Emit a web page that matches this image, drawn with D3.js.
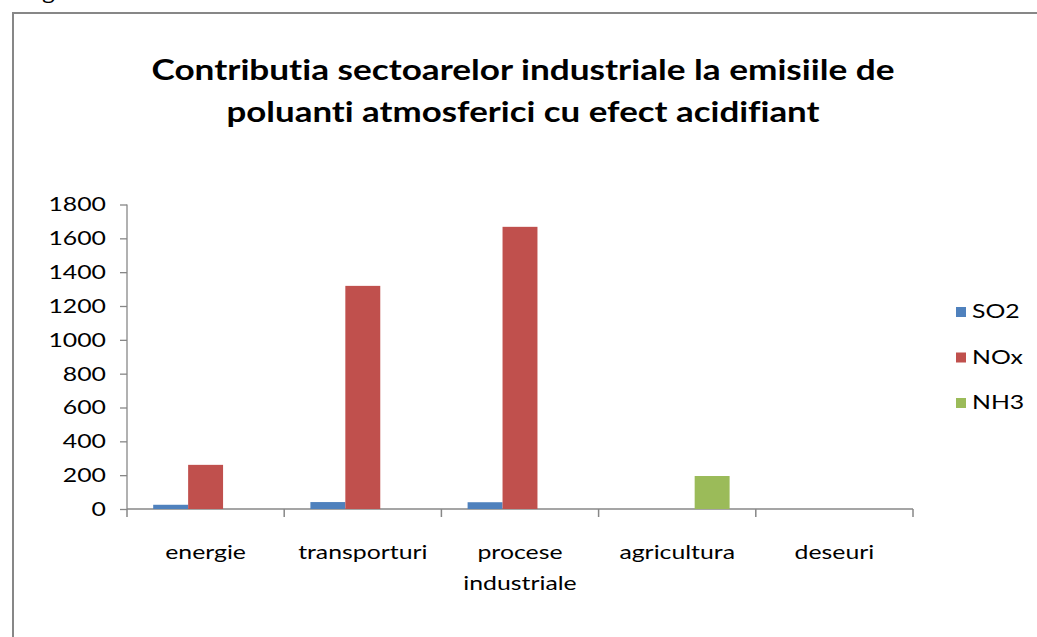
<!DOCTYPE html>
<html><head><meta charset="utf-8">
<script src="https://cdn.jsdelivr.net/npm/d3@7"></script>
<style>body{margin:0;background:#fff}svg{display:block}text{font-variant-ligatures:none;font-feature-settings:"liga" 0,"clig" 0}</style>
</head><body>
<script>
const categories = ["energie", "transporturi", "procese industriale", "agricultura", "deseuri"];
const seriesNames = ["SO2", "NOx", "NH3"];
const SO2 = [25, 41, 40, 0, 0];
const NOx = [261, 1319, 1668, 0, 0];
const NH3 = [0, 0, 0, 195, 0];
const yTicks = [0, 200, 400, 600, 800, 1000, 1200, 1400, 1600, 1800];
const colors = ["#4F81BD", "#C0504D", "#9BBB59"];
const titleLines = ["Contributia sectoarelor industriale la emisiile de", "poluanti atmosferici cu efect acidifiant"];

const W = 1037, H = 637;
const font = "Lato, 'Open Sans', sans-serif";
const STRETCH = 1.24;
const svg = d3.select("body").append("svg").attr("width", W).attr("height", H);

function stretch(sel, f) {
  sel.each(function () {
    const w = this.getComputedTextLength();
    d3.select(this).attr("textLength", w * f).attr("lengthAdjust", "spacingAndGlyphs");
  });
}

const fig = svg.append("text").attr("x", 22).attr("y", 0).attr("font-family", font).attr("font-size", 20).attr("fill", "#000").text("Figura");
stretch(fig, STRETCH);

// frame
svg.append("rect").attr("x", 13).attr("y", 13).attr("width", W + 10).attr("height", H + 10)
  .attr("fill", "none").attr("stroke", "#878787").attr("stroke-width", 2);

const x0 = d3.scaleBand().domain(categories).range([127, 913]).paddingInner(0).paddingOuter(0);
const bw = x0.bandwidth() / 4.5;
const x1 = d3.scaleBand().domain(seriesNames).range([0.75 * bw, 3.75 * bw]);
const y = d3.scaleLinear().domain([0, 1800]).range([509, 204.5]);

// title
const titleWidths = [743, 593];
titleLines.forEach((t, i) => {
  const el = svg.append("text").attr("x", 523).attr("y", [80, 122][i]).attr("text-anchor", "middle")
    .attr("font-family", font).attr("font-weight", "bold").attr("font-size", 29).attr("fill", "#000").text(t);
  const w = el.node().getComputedTextLength();
  el.attr("textLength", titleWidths[i]).attr("lengthAdjust", "spacingAndGlyphs");
});

// y axis
const yAxis = svg.append("g").attr("transform", "translate(127,0)")
  .call(d3.axisLeft(y).tickValues(yTicks).tickSize(7).tickPadding(14).tickFormat(d3.format("d")));
yAxis.select(".domain").attr("stroke", "#878787").attr("stroke-width", 1.3).attr("d", "M0,204.5V509");
yAxis.selectAll(".tick line").attr("stroke", "#878787").attr("stroke-width", 1.3);
yAxis.selectAll(".tick text").attr("font-family", font).attr("font-size", 20).attr("fill", "#000");
stretch(yAxis.selectAll(".tick text"), STRETCH);

// x axis
const xAxis = svg.append("g").attr("transform", "translate(0,509)");
xAxis.append("line").attr("x1", 127).attr("x2", 913).attr("y1", 0).attr("y2", 0).attr("stroke", "#878787").attr("stroke-width", 1.5);
const tickXs = categories.map(c => x0(c)).concat([x0.range()[1]]);
xAxis.selectAll("line.t").data(tickXs).join("line").attr("class", "t")
  .attr("x1", d => d).attr("x2", d => d).attr("y1", 0).attr("y2", 8).attr("stroke", "#878787").attr("stroke-width", 1.5);

// category labels
categories.forEach(c => {
  const words = c === "procese industriale" ? ["procese", "industriale"] : [c];
  words.forEach((w, i) => {
    const t = svg.append("text").attr("x", x0(c) + x0.bandwidth() / 2).attr("y", 559 + i * 31)
      .attr("text-anchor", "middle").attr("font-family", font).attr("font-size", 20).attr("fill", "#000").text(w);
    stretch(t, STRETCH);
  });
});

// bars
const seriesData = [SO2, NOx, NH3];
seriesData.forEach((vals, si) => {
  svg.append("g").selectAll("rect").data(vals.map((v, i) => ({ v, c: categories[i] })).filter(d => d.v > 0))
    .join("rect")
    .attr("x", d => x0(d.c) + x1(seriesNames[si]))
    .attr("width", x1.bandwidth())
    .attr("y", d => y(d.v))
    .attr("height", d => y(0) - y(d.v))
    .attr("fill", colors[si]);
});

// legend
seriesNames.forEach((s, i) => {
  const ly = 307 + i * 45.5;
  svg.append("rect").attr("x", 956).attr("y", ly).attr("width", 10).attr("height", 10).attr("fill", colors[i]);
  const t = svg.append("text").attr("x", 972).attr("y", ly + 11).attr("font-family", font).attr("font-size", 20).attr("fill", "#000").text(s);
  stretch(t, STRETCH);
});
</script>
</body></html>
